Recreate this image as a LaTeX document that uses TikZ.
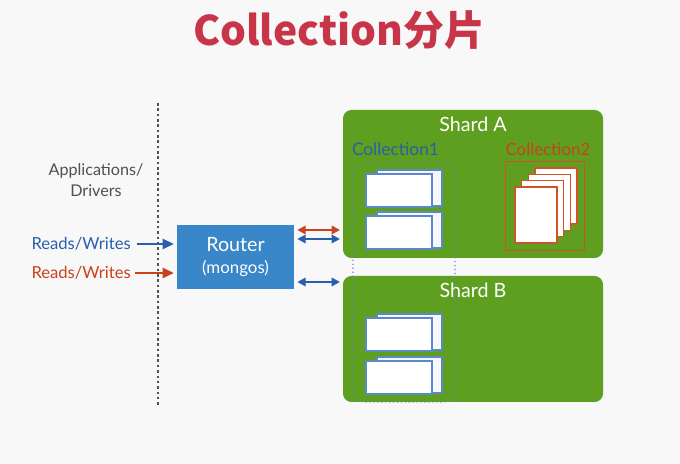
\documentclass[tikz,border=0pt]{standalone}
\usepackage{fontspec}
\setmainfont{Lato}
\newfontfamily\cjk{Noto Sans CJK SC}
\usetikzlibrary{arrows.meta}

\definecolor{titlered}{RGB}{200,52,72}
\definecolor{shardgreen}{RGB}{94,159,32}
\definecolor{routerblue}{RGB}{57,134,200}
\definecolor{textblue}{RGB}{40,95,172}
\definecolor{textred}{RGB}{200,66,28}
\definecolor{docblue}{RGB}{90,136,200}
\definecolor{docred}{RGB}{210,82,40}
\definecolor{labelgray}{RGB}{80,80,80}
\definecolor{bggray}{RGB}{248,248,248}

\begin{document}
\begin{tikzpicture}[x=0.025cm, y=-0.025cm,
    shard/.style={fill=shardgreen, rounded corners=6},
    doc/.style={draw=docblue, line width=0.9pt, fill=white},
    page/.style={draw=docred, line width=1pt, fill=white},
    flow/.style={line width=2pt, -{Triangle[length=8pt,width=7pt]}},
    dflow/.style={line width=1.6pt, {Triangle[length=6pt,width=6pt]}-{Triangle[length=6pt,width=6pt]}},
    lbl/.style={inner sep=0pt, font=\fontsize{11.8}{13}\selectfont}]

        \fill [bggray] (0,0) rectangle (680,464) ;
        \useasboundingbox (0,0) rectangle (680,464) ;

        \node (title) at (339,30) {\cjk\bfseries\fontsize{29}{32}\selectfont\color{titlered}Collection分片} ;

        % the client side
        \draw [labelgray, line width=1.8pt, dotted] (158,103) -- (158,407) ;
        \node (apps) [lbl, text=labelgray, align=center, font=\fontsize{11.5}{14.5}\selectfont] at (96,180) {Applications/\\Drivers} ;
        \node (rwblue) [lbl, text=textblue, anchor=east] at (131,244) {Reads/Writes} ;
        \node (rwred) [lbl, text=textred, anchor=east] at (131,273) {Reads/Writes} ;

        \node (router) [fill=routerblue, minimum width=117*0.025cm, minimum height=64*0.025cm, align=center, text=white, font=\fontsize{14}{17}\selectfont] at (235.5,257) {Router\\[-1pt]{\fontsize{12}{13}\selectfont(mongos)}} ;

        \draw [flow, textblue] ([xshift=4]rwblue.east) -- ([xshift=-2]router.west |- rwblue) ;
        \draw [flow, textred] ([xshift=3]rwred.east) -- ([xshift=-2]router.west |- rwred) ;

        % shards
        \fill [shard] (343,110) rectangle (603,258) ;
        \fill [shard] (343,276) rectangle (603,402) ;
        \node (shardA) [lbl, text=white, font=\fontsize{14}{16}\selectfont] at (473,124) {Shard A} ;
        \node (shardB) [lbl, text=white, font=\fontsize{14}{16}\selectfont] at (473,290) {Shard B} ;

        \coordinate (ta) at (340,230) ;
        \coordinate (tb) at (340,239) ;
        \coordinate (tc) at (340,282) ;
        \draw [dflow, textred] (router.east |- ta) ++(3,0) -- (ta) ;
        \draw [dflow, textblue] (router.east |- tb) ++(3,0) -- (tb) ;
        \draw [dflow, textblue] (router.east |- tc) ++(3,0) -- (tc) ;

        % collection1
        \node (coll1) [lbl, text=textblue, font=\fontsize{12.3}{14}\selectfont] at (395.5,149) {Collection1} ;
        \draw [docblue, dotted, line width=0.8pt, rounded corners=8] (353,162) rectangle (455,402) ;
        \foreach \y in {170,212,314,357} {
            \draw [doc, fill=blue!3] (377,\y) rectangle (442,\y+36) ;
            \draw [doc] (366,\y+4) rectangle (432,\y+37) ;
        }

        % collection2
        \node (coll2) [lbl, text=textred, font=\fontsize{12}{14}\selectfont] at (548,149) {Collection2} ;
        \draw [docred, line width=0.7pt] (505,161) rectangle (584,250) ;
        \foreach \i in {3,2,1,0} {
            \draw [page] (515+6.7*\i,187-6.3*\i) rectangle (557+6.7*\i,243-6.3*\i) ;
        }

      \end{tikzpicture}
\end{document}
